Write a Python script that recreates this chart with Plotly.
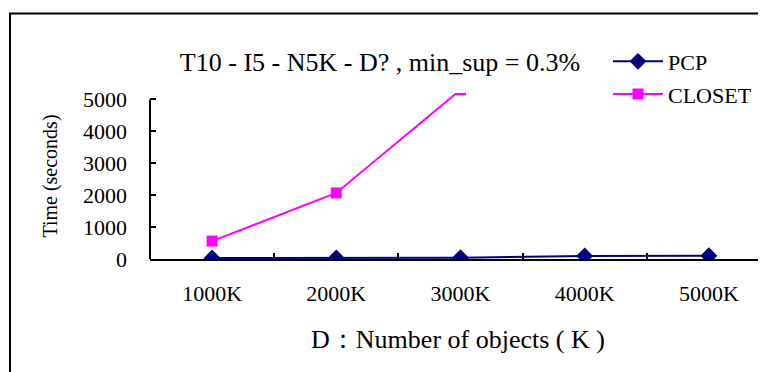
import plotly.graph_objects as go

categories = ["1000K", "2000K", "3000K", "4000K", "5000K"]
pcp_values = [30, 35, 40, 95, 100]
closet_values = [560, 2070, 5300, None, None]
y_ticks = [0, 1000, 2000, 3000, 4000, 5000]

# page has an 8px body margin; work in screen pixels and convert
OFF = 8
W, H = 766 - OFF, 372 - OFF
Y0_S, PLOT_L_S = 259, 150          # screen y of value 0, screen x of y axis
PX_PER_UNIT = 160 / 5000
YMAX = 5200
ML = PLOT_L_S - OFF
MR = 0
MB = H - (Y0_S - OFF)
MT = (Y0_S - OFF) - YMAX * PX_PER_UNIT
PW, PH = W - ML - MR, H - MT - MB

def px_x(s):
    return (s - OFF - ML) / PW

def px_y(s):
    return (H - MB - (s - OFF)) / PH

FONT = "Liberation Serif"

fig = go.Figure()
fig.add_trace(go.Scatter(
    x=categories, y=pcp_values, name="PCP", mode="lines+markers",
    line=dict(color="#000080", width=2),
    marker=dict(symbol="diamond", size=13, color="#000080"),
    legendgroup="a", cliponaxis=True,
))
fig.add_trace(go.Scatter(
    x=categories, y=closet_values, name="CLOSET", mode="lines+markers",
    line=dict(color="#FF00FF", width=2),
    marker=dict(symbol="square", size=11, color="#FF00FF"),
    legendgroup="b", cliponaxis=True,
))

fig.add_shape(type="line", xref="paper", yref="y", x0=0, x1=0, y0=0, y1=5000,
              line=dict(color="black", width=2))
fig.add_shape(type="rect", xref="paper", yref="paper",
              x0=px_x(10), x1=px_x(820), y0=px_y(13), y1=px_y(420),
              line=dict(color="black", width=2), layer="below")

fig.update_layout(
    width=W, height=H,
    margin=dict(l=ML, r=MR, t=MT, b=MB, pad=0),
    paper_bgcolor="white", plot_bgcolor="white",
    font=dict(family=FONT, color="black", size=22),
    title=dict(text="T10 - I5 - N5K - D? , min_sup = 0.3%",
               x=(380 - OFF) / W, xanchor="center", y=1 - (62 - OFF) / H,
               yanchor="middle", font=dict(size=26, family=FONT)),
    showlegend=True,
    legend=dict(x=px_x(608), y=px_y(40), xanchor="left", yanchor="top",
                font=dict(size=22, family=FONT), bgcolor="rgba(0,0,0,0)",
                traceorder="grouped", tracegroupgap=1, itemwidth=50),
    xaxis=dict(
        type="category", range=[-0.5, 4.46], showgrid=False, zeroline=False,
        showline=True, linecolor="black", linewidth=2,
        ticks="inside", ticklen=6, tickwidth=1.5, tickcolor="black",
        tickson="boundaries", ticklabelstandoff=14,
        tickfont=dict(size=22, family=FONT),
        title=dict(text="D：Number of objects ( K )", standoff=24,
                   font=dict(size=26, family=FONT)),
    ),
    yaxis=dict(
        range=[0, YMAX], showgrid=False, zeroline=False, showline=False,
        tickvals=y_ticks, ticks="inside", ticklen=6, tickwidth=1.5,
        tickcolor="black", ticklabelstandoff=22,
        tickfont=dict(size=22, family=FONT),
        title=dict(text="Time (seconds)", standoff=20,
                   font=dict(size=20, family=FONT)),
    ),
)

fig.write_html("out.html")
